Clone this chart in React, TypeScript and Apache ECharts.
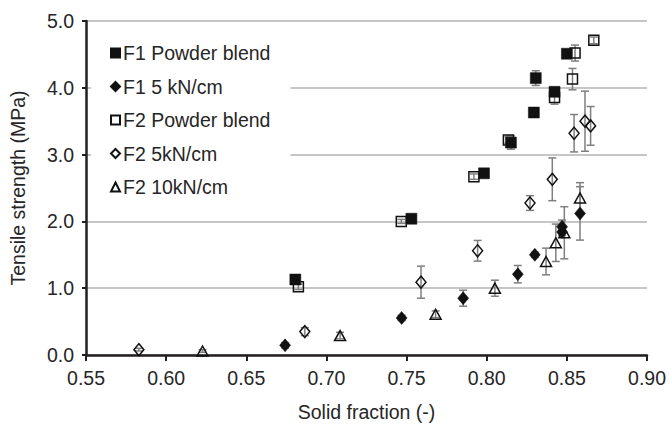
import React, { useEffect, useRef } from "react";
import * as echarts from "echarts";

// ---- data ----
const seriesNames = ["F1 Powder blend", "F1 5 kN/cm", "F2 Powder blend", "F2 5kN/cm", "F2 10kN/cm"];

const f1PowderX = [0.6806, 0.753, 0.7983, 0.8151, 0.8294, 0.8306, 0.8423, 0.85];
const f1PowderY = [1.13, 2.04, 2.72, 3.18, 3.63, 4.145, 3.94, 4.51];
const f1PowderErr = [0.05, 0.04, 0.04, 0.1, 0.03, 0.11, 0.05, 0.04];

const f1Roll5X = [0.6742, 0.7469, 0.7853, 0.8194, 0.83, 0.847, 0.847, 0.8582];
const f1Roll5Y = [0.145, 0.555, 0.85, 1.21, 1.5, 1.92, 1.84, 2.12];
const f1Roll5Err = [0.04, 0.04, 0.12, 0.13, 0.04, 0.1, 0.05, 0.4];

const f2PowderX = [0.6825, 0.7467, 0.792, 0.8135, 0.8423, 0.8535, 0.8551, 0.8668];
const f2PowderY = [1.02, 2.0, 2.67, 3.22, 3.855, 4.13, 4.52, 4.71];
const f2PowderErr = [0.04, 0.03, 0.04, 0.05, 0.1, 0.16, 0.12, 0.05];

const f2Roll5X = [0.583, 0.6865, 0.759, 0.7943, 0.827, 0.8409, 0.8545, 0.8613, 0.8648];
const f2Roll5Y = [0.08, 0.35, 1.09, 1.56, 2.275, 2.63, 3.32, 3.5, 3.43];
const f2Roll5Err = [0.02, 0.06, 0.24, 0.155, 0.11, 0.32, 0.28, 0.45, 0.29];

const f2Roll10X = [0.6227, 0.7085, 0.7681, 0.8051, 0.837, 0.8431, 0.8484, 0.8582];
const f2Roll10Y = [0.06, 0.29, 0.61, 1.0, 1.4, 1.68, 1.83, 2.35];
const f2Roll10Err = [0.02, 0.05, 0.05, 0.12, 0.2, 0.28, 0.39, 0.23];

const xTicks = [0.55, 0.6, 0.65, 0.7, 0.75, 0.8, 0.85, 0.9];
const yTicks = [0, 1, 2, 3, 4, 5];

const FONT = "Liberation Sans, Arial, sans-serif";
const FS = 19.5;
const TEXT = "#262626";
const AXIS = "#231f20";

function zip3(xs: number[], ys: number[], es: number[]) {
  return xs.map((x, i) => [x, ys[i], es[i]]);
}

export default function App() {
  const ref = useRef<HTMLDivElement>(null);
  useEffect(() => {
    if (!ref.current) return;
    const chart = echarts.init(ref.current, undefined, { renderer: "svg" });

    const sets = [
      { name: seriesNames[0], data: zip3(f1PowderX, f1PowderY, f1PowderErr), symbol: "rect", size: 11, filled: true },
      { name: seriesNames[1], data: zip3(f1Roll5X, f1Roll5Y, f1Roll5Err), symbol: "diamond", size: [11, 13], filled: true },
      { name: seriesNames[2], data: zip3(f2PowderX, f2PowderY, f2PowderErr), symbol: "rect", size: 10, filled: false },
      { name: seriesNames[3], data: zip3(f2Roll5X, f2Roll5Y, f2Roll5Err), symbol: "diamond", size: [10, 12], filled: false },
      { name: seriesNames[4], data: zip3(f2Roll10X, f2Roll10Y, f2Roll10Err), symbol: "triangle", size: [11, 10], filled: false },
    ];

    const scatterSeries = sets.map((s) => ({
      type: "scatter",
      name: s.name,
      data: s.data.map((d) => [d[0], d[1]]),
      symbol: s.symbol,
      symbolSize: s.size,
      itemStyle: s.filled
        ? { color: "#111111", borderColor: "#111111", borderWidth: 0.5, opacity: 1 }
        : { color: "rgba(255,255,255,0)", borderColor: "#111111", borderWidth: 1.5, opacity: 1 },
      z: 3,
    }));

    const errSeries = sets.map((s) => ({
      type: "custom",
      name: s.name + " err",
      data: s.data,
      encode: { x: 0, y: 1 },
      z: 2,
      silent: true,
      renderItem: (params: any, api: any) => {
        const x = api.value(0);
        const y = api.value(1);
        const e = api.value(2);
        const top = api.coord([x, y + e]);
        const bot = api.coord([x, y - e]);
        const hw = 4;
        const style = { stroke: "#7f7f7f", lineWidth: 1.5 };
        return {
          type: "group",
          children: [
            { type: "line", shape: { x1: top[0], y1: top[1], x2: bot[0], y2: bot[1] }, style },
            { type: "line", shape: { x1: top[0] - hw, y1: top[1], x2: top[0] + hw, y2: top[1] }, style },
            { type: "line", shape: { x1: bot[0] - hw, y1: bot[1], x2: bot[0] + hw, y2: bot[1] }, style },
          ],
        };
      },
    }));

    chart.setOption({
      animation: false,
      backgroundColor: "#ffffff",
      textStyle: { fontFamily: FONT },
      grid: { left: 78, right: 20, top: 21, bottom: 61, containLabel: false },
      legend: {
        data: seriesNames,
        orient: "vertical",
        left: 91,
        top: 30,
        padding: [13, 20, 13, 19],
        itemGap: 13.5,
        itemWidth: 9,
        itemHeight: 9,
        backgroundColor: "#ffffff",
        textStyle: { fontFamily: FONT, fontSize: FS, color: TEXT, padding: [0, 0, 0, -2] },
        selectedMode: false,
      },
      xAxis: {
        type: "value",
        min: xTicks[0],
        max: xTicks[xTicks.length - 1],
        interval: 0.05,
        name: "Solid fraction (-)",
        nameLocation: "middle",
        nameGap: 47,
        nameTextStyle: { fontFamily: FONT, fontSize: FS, color: TEXT },
        axisLine: { show: true, onZero: false, lineStyle: { color: AXIS, width: 2.5 } },
        axisTick: { show: true, inside: false, length: 6, lineStyle: { color: AXIS, width: 2 } },
        axisLabel: {
          margin: 13,
          fontFamily: FONT,
          fontSize: FS,
          color: TEXT,
          formatter: (v: number) => v.toFixed(2),
        },
        splitLine: { show: false },
      },
      yAxis: {
        type: "value",
        min: yTicks[0],
        max: yTicks[yTicks.length - 1],
        interval: 1,
        name: "Tensile strength (MPa)",
        nameLocation: "middle",
        nameGap: 58,
        nameTextStyle: { fontFamily: FONT, fontSize: FS, color: TEXT },
        axisLine: { show: true, lineStyle: { color: AXIS, width: 2.5 } },
        axisTick: { show: true, inside: false, length: 4, lineStyle: { color: AXIS, width: 2 } },
        axisLabel: {
          margin: 12,
          fontFamily: FONT,
          fontSize: FS,
          color: TEXT,
          formatter: (v: number) => v.toFixed(1),
        },
        splitLine: { show: true, lineStyle: { color: "#c6c6c6", width: 2 } },
      },
      series: [...errSeries, ...scatterSeries],
    });

    return () => chart.dispose();
  }, []);

  return <div ref={ref} style={{ position: "fixed", left: 0, top: 0, width: 669, height: 427 }} />;
}
